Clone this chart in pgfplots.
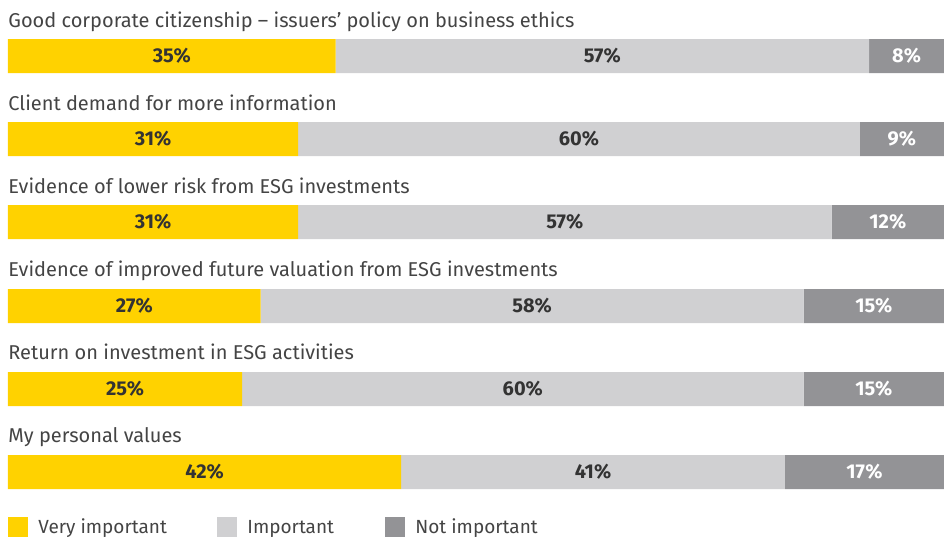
\documentclass[border=0pt]{standalone}
\usepackage{fontspec}
\setmainfont{Fira Sans}
\usepackage{pgfplots}
\usepackage{pgfplotstable}
\pgfplotsset{compat=1.18}
\definecolor{eyyellow}{HTML}{FFD200}
\definecolor{eylight}{HTML}{D0D0D2}
\definecolor{eydark}{HTML}{939396}
\definecolor{titlegray}{HTML}{444444}
\definecolor{numgray}{HTML}{333333}

% ypos = bar centre in pixels of the 944x538 reference (1px = 0.5pt)
\pgfplotstableread{
ypos veryimp imp notimp
56   35      57  8
139  31      60  9
222  31      57  12
306  27      58  15
389  25      60  15
472  42      41  17
}\datatable

\pgfplotsset{eyframe/.style={
  at={(0pt,0pt)}, anchor=south west,
  scale only axis, width=468pt, height=269pt,
  hide axis, clip=false,
  xmin=0, xmax=100, ymin=0, ymax=538, y dir=reverse}}

\begin{document}
\begin{tikzpicture}
\path[use as bounding box] (-4pt,0pt) rectangle (468pt,269pt);
\begin{axis}[eyframe, xbar stacked, bar width=17pt]
\addplot[fill=eyyellow, draw=none] table[x=veryimp, y=ypos] {\datatable};
\addplot[fill=eylight, draw=none] table[x=imp, y=ypos] {\datatable};
\addplot[fill=eydark, draw=none] table[x=notimp, y=ypos] {\datatable};
\end{axis}

% value labels, centred in each segment
\begin{axis}[eyframe, point meta=explicit,
  nodes near coords={\pgfmathprintnumber{\pgfplotspointmeta}\%},
  /pgf/number format/assume math mode=true,
  every node near coord/.append style={anchor=center, inner sep=0pt,
    font=\bfseries\fontsize{10}{11}\selectfont}]
\addplot[draw=none, mark=none, every node near coord/.append style={text=numgray}]
  table[x expr=\thisrow{veryimp}/2, y=ypos, meta=veryimp] {\datatable};
\addplot[draw=none, mark=none, every node near coord/.append style={text=numgray}]
  table[x expr=\thisrow{veryimp}+\thisrow{imp}/2, y=ypos, meta=imp] {\datatable};
\addplot[draw=none, mark=none, every node near coord/.append style={text=white}]
  table[x expr=100-\thisrow{notimp}/2, y=ypos, meta=notimp] {\datatable};
\end{axis}

% titles and legend (1px = 0.5pt, x from bar start, y from bottom)
\begin{scope}[font=\fontsize{10}{12}\selectfont, text=titlegray]
\node[anchor=base west, inner sep=0pt] at (0pt,255.5pt) {Good corporate citizenship – issuers’ policy on business ethics};
\node[anchor=base west, inner sep=0pt] at (0pt,214pt) {Client demand for more information};
\node[anchor=base west, inner sep=0pt] at (0pt,172.5pt) {Evidence of lower risk from ESG investments};
\node[anchor=base west, inner sep=0pt] at (0pt,131pt) {Evidence of improved future valuation from ESG investments};
\node[anchor=base west, inner sep=0pt] at (0pt,89.5pt) {Return on investment in ESG activities};
\node[anchor=base west, inner sep=0pt] at (0pt,48pt) {My personal values};
\end{scope}
\begin{scope}[font=\fontsize{9.5}{11}\selectfont, text=titlegray]
\fill[eyyellow] (0pt,0.5pt) rectangle ++(10pt,10pt);
\fill[eylight] (104.5pt,0.5pt) rectangle ++(10pt,10pt);
\fill[eydark] (188.5pt,0.5pt) rectangle ++(10pt,10pt);
\node[anchor=base west, inner sep=0pt] at (15pt,2.5pt) {Very important};
\node[anchor=base west, inner sep=0pt] at (119.5pt,2.5pt) {Important};
\node[anchor=base west, inner sep=0pt] at (203.5pt,2.5pt) {Not important};
\end{scope}
\end{tikzpicture}
\end{document}
